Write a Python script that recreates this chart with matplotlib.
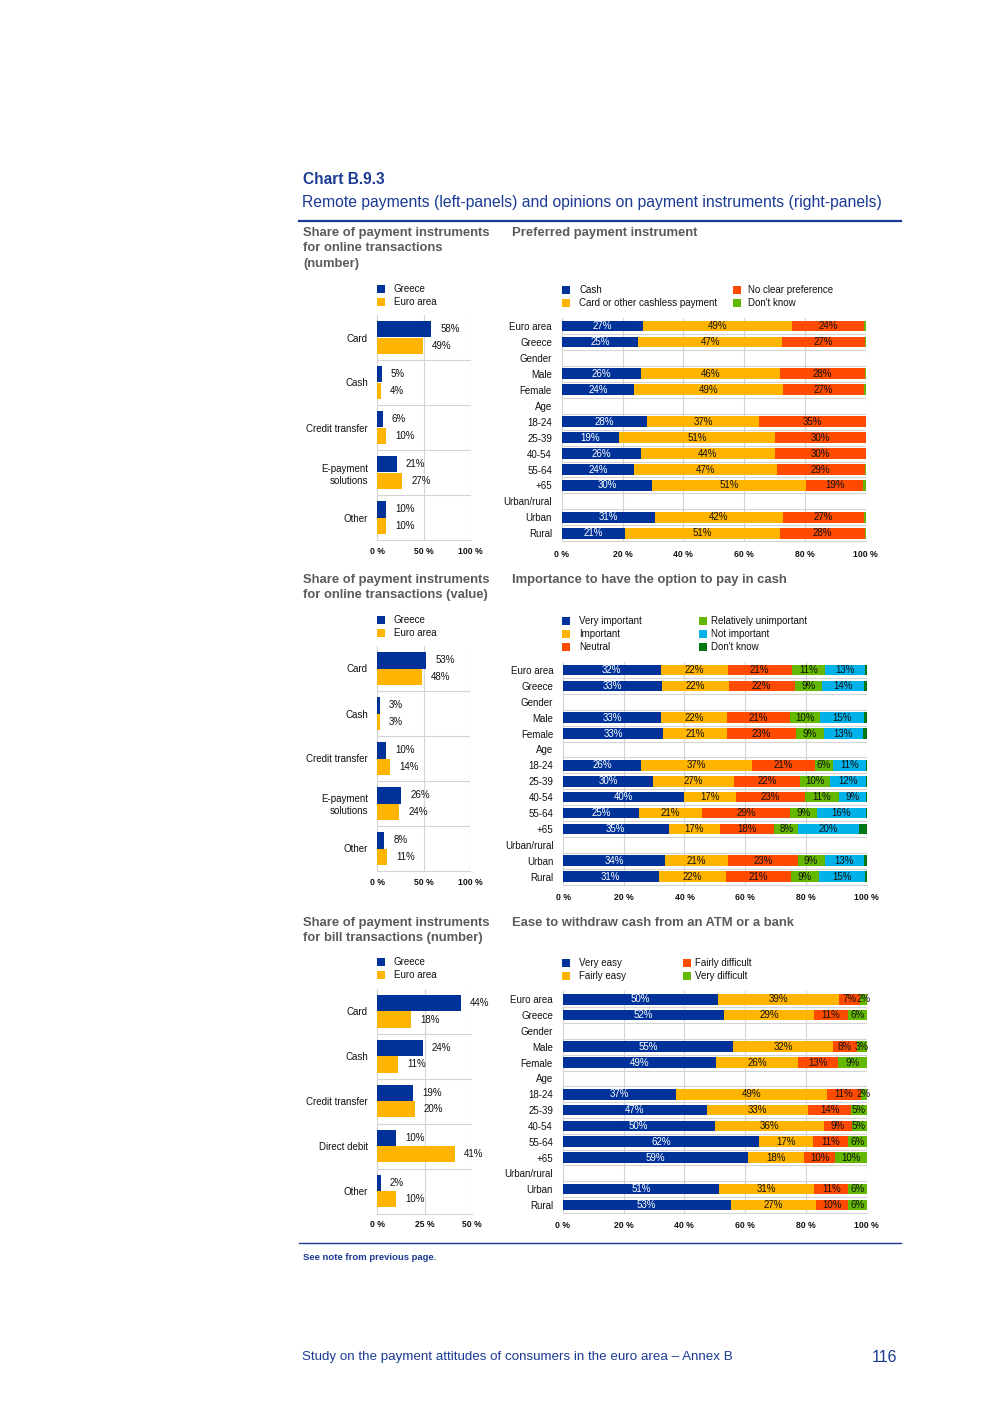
import matplotlib
matplotlib.use("Agg")
import matplotlib.pyplot as plt
from matplotlib.patches import Rectangle
import numpy as np

plt.rcParams['font.family'] = ['Liberation Sans', 'DejaVu Sans']

W, H = 992, 1403
BLUE = '#003299'
YELLOW = '#FFB400'
RED = '#FF4B00'
GREEN = '#65B800'
CYAN = '#00B1EA'
DKGREEN = '#007816'
GRID = '#d4d4d4'
TITLE_BLUE = '#1a3a94'
GRAY = '#5a5a5a'

# ---------------- data ----------------
left1_cats = ['Card', 'Cash', 'Credit transfer', 'E-payment\nsolutions', 'Other']
left1_greece = [58, 5, 6, 21, 10]
left1_euro = [49, 4, 10, 27, 10]

left2_cats = ['Card', 'Cash', 'Credit transfer', 'E-payment\nsolutions', 'Other']
left2_greece = [53, 3, 10, 26, 8]
left2_euro = [48, 3, 14, 24, 11]

left3_cats = ['Card', 'Cash', 'Credit transfer', 'Direct debit', 'Other']
left3_greece = [44, 24, 19, 10, 2]
left3_euro = [18, 11, 20, 41, 10]

rows = ['Euro area', 'Greece', 'Gender', 'Male', 'Female', 'Age', '18-24', '25-39',
        '40-54', '55-64', '+65', 'Urban/rural', 'Urban', 'Rural']

pref_series = ['Cash', 'Card or other cashless payment', 'No clear preference', "Don't know"]
pref_cash = [27, 25, None, 26, 24, None, 28, 19, 26, 24, 30, None, 31, 21]
pref_card = [49, 47, None, 46, 49, None, 37, 51, 44, 47, 51, None, 42, 51]
pref_noclear = [24, 27, None, 28, 27, None, 35, 30, 30, 29, 19, None, 27, 28]
pref_dk = [0.5, 0.3, None, 0.3, 0.5, None, 0.0, 0.0, 0.0, 0.3, 0.8, None, 0.5, 0.3]

imp_series = ['Very important', 'Important', 'Neutral', 'Relatively unimportant',
              'Not important', "Don't know"]
imp_very = [32, 33, None, 33, 33, None, 26, 30, 40, 25, 35, None, 34, 31]
imp_imp = [22, 22, None, 22, 21, None, 37, 27, 17, 21, 17, None, 21, 22]
imp_neutral = [21, 22, None, 21, 23, None, 21, 22, 23, 29, 18, None, 23, 21]
imp_relun = [11, 9, None, 10, 9, None, 6, 10, 11, 9, 8, None, 9, 9]
imp_notimp = [13, 14, None, 15, 13, None, 11, 12, 9, 16, 20, None, 13, 15]
imp_dk = [0.6, 0.9, None, 0.8, 1.2, None, 0.2, 0.2, 0.3, 0.3, 2.6, None, 1.0, 0.5]

ease_series = ['Very easy', 'Fairly easy', 'Fairly difficult', 'Very difficult']
ease_veasy = [50, 52, None, 55, 49, None, 37, 47, 50, 62, 59, None, 51, 53]
ease_feasy = [39, 29, None, 32, 26, None, 49, 33, 36, 17, 18, None, 31, 27]
ease_fdiff = [7, 11, None, 8, 13, None, 11, 14, 9, 11, 10, None, 11, 10]
ease_vdiff = [2, 6, None, 3, 9, None, 2, 5, 5, 6, 10, None, 6, 6]

# ---------------- helpers ----------------
fig = plt.figure(figsize=(W / 100, H / 100), dpi=100)
fig.patch.set_facecolor('white')

CAT_FS = 7.0
VAL_FS = 7.0
LEG_FS = 7.0
TICK_FS = 6.2


def ax_px(x0, y0, x1, y1):
    return fig.add_axes([x0 / W, 1 - y1 / H, (x1 - x0) / W, (y1 - y0) / H])


def ftext(x, y, s, **kw):
    kw.setdefault('va', 'center')
    fig.text(x / W, 1 - y / H, s, **kw)


def legend_item(x, y, color, label, tx=None):
    fig.patches.append(Rectangle((x / W, 1 - (y + 4) / H), 8 / W, 8 / H,
                                 transform=fig.transFigure, facecolor=color,
                                 edgecolor='none'))
    ftext(tx if tx is not None else x + 17, y, label, fontsize=LEG_FS, color='#111111')


def left_panel(box, cats, greece, euro, xmax, ticks, ticklabels):
    ax = ax_px(*box)
    y = np.arange(len(cats))
    h = 0.36
    ax.barh(y - 0.18, greece, height=h, color=BLUE, zorder=3)
    ax.barh(y + 0.18, euro, height=h, color=YELLOW, zorder=3)
    for yi, v in zip(y - 0.18, greece):
        ax.annotate(f'{v}%', (v, yi), xytext=(6.5, 0), textcoords='offset points',
                    ha='left', va='center', fontsize=VAL_FS, color='#111111')
    for yi, v in zip(y + 0.18, euro):
        ax.annotate(f'{v}%', (v, yi), xytext=(6.5, 0), textcoords='offset points',
                    ha='left', va='center', fontsize=VAL_FS, color='#111111')
    ax.set_xlim(0, xmax)
    ax.set_ylim(len(cats) - 0.5, -0.5)
    ax.set_yticks(y)
    ax.set_yticklabels(cats, fontsize=CAT_FS, linespacing=1.25)
    ax.set_xticks(ticks)
    ax.set_xticklabels(ticklabels, fontsize=TICK_FS, fontweight='bold')
    ax.tick_params(length=0, pad=6.5, colors='#111111')
    ax.tick_params(axis='x', pad=5)
    for yb in np.arange(0.5, len(cats) - 0.5, 1):
        ax.axhline(yb, color=GRID, lw=0.8, zorder=1)
    for t in ticks[1:]:
        ax.axvline(t, color=GRID, lw=0.8, zorder=1)
    for s in ['top', 'right']:
        ax.spines[s].set_visible(False)
    for s in ['left', 'bottom']:
        ax.spines[s].set_color(GRID)
        ax.spines[s].set_linewidth(0.8)
    return ax


def right_panel(box, series_vals, colors, label_flags):
    ax = ax_px(*box)
    n = len(rows)
    y = np.arange(n)
    arr = np.array([[np.nan if v is None else v for v in s] for s in series_vals], float)
    totals = np.nansum(arr, axis=0)
    left = np.zeros(n)
    for k, (vals, col, lab) in enumerate(zip(arr, colors, label_flags)):
        widths = np.where(np.isnan(vals), 0, vals) / np.where(totals == 0, 1, totals) * 100
        ax.barh(y, widths, left=left, height=0.67, color=col, zorder=3)
        if lab:
            tc = 'white' if col == BLUE else '#111111'
            for i in range(n):
                if not np.isnan(vals[i]) and vals[i] >= 1.5:
                    ax.text(left[i] + widths[i] / 2, y[i], f'{vals[i]:.0f}%', ha='center',
                            va='center', fontsize=VAL_FS, color=tc, zorder=4)
        left = left + widths
    ax.set_xlim(0, 100)
    ax.set_ylim(n - 0.5, -0.5)
    ax.set_yticks(y)
    ax.set_yticklabels(rows, fontsize=CAT_FS)
    ax.set_xticks([0, 20, 40, 60, 80, 100])
    ax.set_xticklabels(['0 %', '20 %', '40 %', '60 %', '80 %', '100 %'],
                       fontsize=TICK_FS, fontweight='bold')
    ax.tick_params(length=0, pad=7, colors='#111111')
    ax.tick_params(axis='x', pad=6)
    for yb in np.arange(0.5, n - 0.5, 1):
        ax.axhline(yb, color=GRID, lw=0.8, zorder=1)
    for t in [20, 40, 60, 80, 100]:
        ax.axvline(t, color=GRID, lw=0.8, zorder=1)
    for s in ['top', 'right']:
        ax.spines[s].set_visible(False)
    for s in ['left', 'bottom']:
        ax.spines[s].set_color(GRID)
        ax.spines[s].set_linewidth(0.8)
    return ax


# ---------------- header ----------------
ftext(303, 180, 'Chart B.9.3', fontsize=11.2, fontweight='bold', color=TITLE_BLUE)
ftext(302, 203, 'Remote payments (left-panels) and opinions on payment instruments (right-panels)',
      fontsize=11.3, color=TITLE_BLUE)
fig.add_artist(plt.Line2D([299 / W, 901 / W], [1 - 221 / H, 1 - 221 / H], color=TITLE_BLUE, lw=1.6))

tkw = dict(fontsize=9.4, fontweight='bold', color=GRAY)
ftext(303, 233, 'Share of payment instruments', **tkw)
ftext(303, 248, 'for online transactions', **tkw)
ftext(303, 264, '(number)', **tkw)
ftext(512, 233, 'Preferred payment instrument', **tkw)

ftext(303, 580, 'Share of payment instruments', **tkw)
ftext(303, 595, 'for online transactions (value)', **tkw)
ftext(512, 580, 'Importance to have the option to pay in cash', **tkw)

ftext(303, 923, 'Share of payment instruments', **tkw)
ftext(303, 938, 'for bill transactions (number)', **tkw)
ftext(512, 923, 'Ease to withdraw cash from an ATM or a bank', **tkw)

# ---------------- panel row 1 ----------------
legend_item(377, 289, BLUE, 'Greece')
legend_item(377, 302, YELLOW, 'Euro area')
left_panel((377, 315, 470.5, 540), left1_cats, left1_greece, left1_euro, 100,
           [0, 50, 100], ['0 %', '50 %', '100 %'])

legend_item(562, 290, BLUE, pref_series[0])
legend_item(562, 303, YELLOW, pref_series[1])
legend_item(733, 290, RED, pref_series[2], tx=748)
legend_item(733, 303, GREEN, pref_series[3], tx=748)
right_panel((561.7, 318, 865.7, 541.3), [pref_cash, pref_card, pref_noclear, pref_dk],
            [BLUE, YELLOW, RED, GREEN], [True, True, True, False])

# ---------------- panel row 2 ----------------
legend_item(377, 620, BLUE, 'Greece')
legend_item(377, 633, YELLOW, 'Euro area')
left_panel((377, 646, 470, 871), left2_cats, left2_greece, left2_euro, 100,
           [0, 50, 100], ['0 %', '50 %', '100 %'])

legend_item(562, 621, BLUE, imp_series[0])
legend_item(562, 634, YELLOW, imp_series[1])
legend_item(562, 647, RED, imp_series[2])
legend_item(699, 621, GREEN, imp_series[3], tx=711)
legend_item(699, 634, CYAN, imp_series[4], tx=711)
legend_item(699, 647, DKGREEN, imp_series[5], tx=711)
right_panel((563, 662, 866.7, 884.6),
            [imp_very, imp_imp, imp_neutral, imp_relun, imp_notimp, imp_dk],
            [BLUE, YELLOW, RED, GREEN, CYAN, DKGREEN],
            [True, True, True, True, True, False])

# ---------------- panel row 3 ----------------
legend_item(377, 962, BLUE, 'Greece')
legend_item(377, 975, YELLOW, 'Euro area')
left_panel((377, 989, 472, 1213.5), left3_cats, left3_greece, left3_euro, 50,
           [0, 25, 50], ['0 %', '25 %', '50 %'])

legend_item(562, 963, BLUE, ease_series[0])
legend_item(562, 976, YELLOW, ease_series[1])
legend_item(683, 963, RED, ease_series[2], tx=695)
legend_item(683, 976, GREEN, ease_series[3], tx=695)
right_panel((562.7, 991.4, 866.7, 1212.9), [ease_veasy, ease_feasy, ease_fdiff, ease_vdiff],
            [BLUE, YELLOW, RED, GREEN], [True, True, True, True])

# ---------------- footer ----------------
fig.add_artist(plt.Line2D([299 / W, 901 / W], [1 - 1243 / H, 1 - 1243 / H], color=TITLE_BLUE, lw=1.0))
ftext(303, 1258, 'See note from previous page.', fontsize=6.8, fontweight='bold', color=TITLE_BLUE)
ftext(302, 1357, 'Study on the payment attitudes of consumers in the euro area \u2013 Annex B',
      fontsize=9.6, color=TITLE_BLUE)
ftext(897, 1357, '116', fontsize=11.5, color=TITLE_BLUE, ha='right')

fig.savefig('out.png', dpi=100, facecolor='white')
